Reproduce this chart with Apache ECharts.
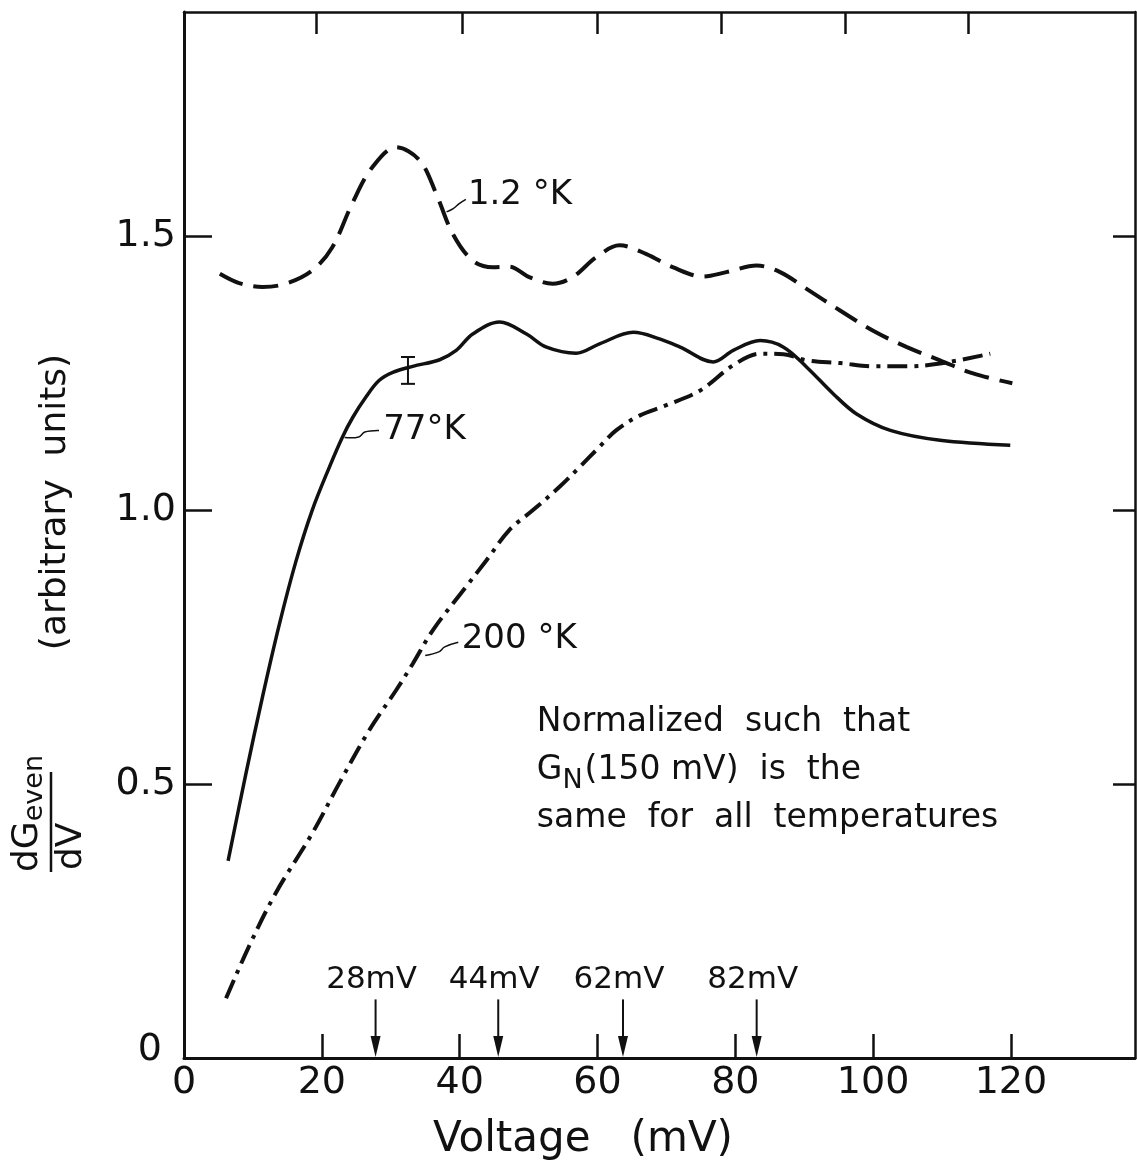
<!DOCTYPE html>
<html><head><meta charset="utf-8">
<script src="https://cdn.jsdelivr.net/npm/echarts@6/dist/echarts.min.js"></script>
<style>html,body{margin:0;padding:0;background:#fff}#c{width:1137px;height:1166px}</style>
</head><body><div id="c"></div>
<script>
// ---- data ----
const xTickValues = [0, 20, 40, 60, 80, 100, 120];
const yTickValues = [0, 0.5, 1.0, 1.5];
const yTickLabels = ['0', '0.5', '1.0', '1.5'];
const topTickValues = [19.2, 40.4, 59.9, 77.9, 95.9, 113.8];

const v1K2 = [5.2, 8.0, 11.4, 14.8, 18.6, 21.5, 24.4, 27.3, 30.8, 34.2, 36.6, 39.0, 41.9, 44.8, 47.2, 50.1, 53.5, 56.4, 59.8, 63.2, 67.1, 70.9, 75.3, 78.7, 83.1, 86.5, 90.4, 95.2, 100.0, 104.9, 109.7, 114.5, 120.2];
const g1K2 = [1.432, 1.415, 1.408, 1.414, 1.438, 1.480, 1.560, 1.626, 1.663, 1.639, 1.578, 1.505, 1.456, 1.444, 1.445, 1.426, 1.414, 1.426, 1.462, 1.484, 1.468, 1.444, 1.427, 1.435, 1.447, 1.435, 1.404, 1.365, 1.328, 1.298, 1.274, 1.250, 1.232];

const v77K = [6.4, 9.0, 11.4, 13.8, 16.2, 18.6, 21.1, 23.0, 24.5, 26.4, 28.3, 30.3, 33.2, 37.1, 39.5, 41.9, 45.8, 49.7, 52.6, 56.9, 60.3, 65.2, 69.0, 72.0, 76.8, 79.7, 83.6, 87.0, 90.4, 94.2, 97.6, 102.5, 109.7, 119.9];
const g77K = [0.360, 0.520, 0.660, 0.790, 0.905, 1.000, 1.079, 1.134, 1.170, 1.207, 1.237, 1.252, 1.263, 1.275, 1.292, 1.322, 1.344, 1.322, 1.298, 1.287, 1.304, 1.325, 1.313, 1.298, 1.271, 1.292, 1.310, 1.298, 1.261, 1.213, 1.176, 1.146, 1.128, 1.119];

const v200K = [6.1, 9.4, 13.3, 18.6, 22.5, 26.9, 30.8, 33.2, 36.1, 40.9, 43.9, 47.2, 50.6, 54.5, 57.4, 60.3, 62.7, 66.1, 70.0, 74.9, 79.7, 83.6, 87.0, 90.4, 95.2, 100.0, 104.9, 109.7, 117.0];
const g200K = [0.109, 0.203, 0.301, 0.410, 0.501, 0.599, 0.672, 0.720, 0.781, 0.860, 0.909, 0.964, 1.000, 1.043, 1.079, 1.116, 1.146, 1.173, 1.192, 1.219, 1.265, 1.286, 1.285, 1.274, 1.269, 1.263, 1.263, 1.268, 1.286];

const errBarV = [32.5];
const errBarLow = [1.231];
const errBarHigh = [1.280];

const arrowLabels = ['28mV', '44mV', '62mV', '82mV'];
const arrowV = [27.8, 45.6, 63.7, 83.1];
const arrowTail = 0.107;

const seriesNames = ['1.2 °K', '77°K', '200 °K'];

// ---- chart ----
const FONT = 'DejaVu Sans';
const INK = '#111';
const zip = (a, b) => a.map((v, i) => [v, b[i]]);

const chart = echarts.init(document.getElementById('c'), null, {renderer: 'canvas'});

const option = {
  backgroundColor: '#fff',
  animation: false,
  grid: {left: 184, right: 2, top: 12, bottom: 108, containLabel: false},
  xAxis: [
    {
      type: 'value', min: 0, max: 138, position: 'bottom',
      axisLine: {onZero: false, lineStyle: {color: INK, width: 3}},
      axisTick: {inside: true, length: 24, customValues: xTickValues.slice(1), lineStyle: {color: INK, width: 2.5}},
      axisLabel: {customValues: xTickValues, fontSize: 38, fontFamily: FONT, color: INK, margin: 6},
      splitLine: {show: false}
    },
    {
      type: 'value', min: 0, max: 138, position: 'top',
      axisLine: {onZero: false, lineStyle: {color: INK, width: 2.5}},
      axisTick: {inside: true, length: 22, customValues: topTickValues, lineStyle: {color: INK, width: 2.5}},
      axisLabel: {show: false},
      splitLine: {show: false}
    }
  ],
  yAxis: [
    {
      type: 'value', min: 0, max: 1.91, position: 'left',
      axisLine: {onZero: false, lineStyle: {color: INK, width: 3}},
      axisTick: {inside: true, length: 28, customValues: yTickValues.slice(1), lineStyle: {color: INK, width: 2.5}},
      axisLabel: {
        customValues: yTickValues, fontSize: 38, fontFamily: FONT, color: INK, margin: 8,
        formatter: v => {
          const i = yTickValues.findIndex(t => Math.abs(t - v) < 1e-9);
          const s = i >= 0 ? yTickLabels[i] : '';
          return v === 0 ? '{z|' + s + '}' : s;
        },
        rich: {z: {fontSize: 38, fontFamily: FONT, color: INK, padding: [0, 14, 16, 0]}}
      },
      splitLine: {show: false}
    },
    {
      type: 'value', min: 0, max: 1.91, position: 'right',
      axisLine: {onZero: false, lineStyle: {color: INK, width: 2.5}},
      axisTick: {inside: true, length: 22, customValues: yTickValues.slice(1), lineStyle: {color: INK, width: 2.5}},
      axisLabel: {show: false},
      splitLine: {show: false}
    }
  ],
  series: [
    {
      name: seriesNames[0], type: 'line', data: zip(v1K2, g1K2), showSymbol: false, smooth: 0.35,
      lineStyle: {color: INK, width: 4, type: [25, 11]}
    },
    {
      name: seriesNames[1], type: 'line', data: zip(v77K, g77K), showSymbol: false, smooth: 0.35,
      lineStyle: {color: INK, width: 3.5, type: 'solid'}
    },
    {
      name: seriesNames[2], type: 'line', data: zip(v200K, g200K), showSymbol: false, smooth: 0.35,
      lineStyle: {color: INK, width: 4, type: [20, 7, 4, 7]}
    },
    {
      type: 'custom', name: 'error bar',
      data: errBarV.map((v, i) => [v, errBarLow[i], errBarHigh[i]]),
      renderItem: (params, api) => {
        const lo = api.coord([api.value(0), api.value(1)]);
        const hi = api.coord([api.value(0), api.value(2)]);
        const w = 7;
        const st = {stroke: INK, lineWidth: 2};
        return {type: 'group', children: [
          {type: 'line', shape: {x1: lo[0], y1: lo[1], x2: hi[0], y2: hi[1]}, style: st},
          {type: 'line', shape: {x1: lo[0] - w, y1: lo[1], x2: lo[0] + w, y2: lo[1]}, style: st},
          {type: 'line', shape: {x1: hi[0] - w, y1: hi[1], x2: hi[0] + w, y2: hi[1]}, style: st}
        ]};
      }
    },
    {
      type: 'custom', name: 'arrows',
      data: arrowV.map((v, i) => [v, arrowTail, i]),
      renderItem: (params, api) => {
        const tip = api.coord([api.value(0), 0]);
        const tail = api.coord([api.value(0), api.value(1)]);
        const idx = api.value(2);
        return {type: 'group', children: [
          {type: 'line', shape: {x1: tail[0], y1: tail[1], x2: tip[0], y2: tip[1] - 16}, style: {stroke: INK, lineWidth: 2}},
          {type: 'polygon', shape: {points: [[tip[0] - 5, tip[1] - 22], [tip[0] + 5, tip[1] - 22], [tip[0], tip[1] - 1]]}, style: {fill: INK}},
          {type: 'text', x: tail[0] - 4, y: tail[1] - 4, style: {text: arrowLabels[idx], font: '31px "' + FONT + '"', fill: INK, align: 'center', verticalAlign: 'bottom'}}
        ]};
      }
    }
  ]
};
chart.setOption(option);

// ---- annotations (placed through the chart's scales) ----
const px = (x, y) => chart.convertToPixel({xAxisIndex: 0, yAxisIndex: 0}, [x, y]);
const g = [];
function leader(a, b) {
  const p = px(a[0], a[1]), q = px(b[0], b[1]);
  const mx = (p[0] + q[0]) / 2, my = (p[1] + q[1]) / 2;
  g.push({type: 'polyline', shape: {points: [p, [mx - 3, my + 3], [mx + 3, my - 2], q], smooth: 0.4}, style: {stroke: INK, lineWidth: 1.5, fill: null}});
}
function label(text, at, size) {
  const p = px(at[0], at[1]);
  g.push({type: 'text', x: p[0], y: p[1], style: {text: text, font: size + 'px "' + FONT + '"', fill: INK, align: 'left', verticalAlign: 'middle'}});
}
leader([38.1, 1.545], [40.9, 1.568]);
label(seriesNames[0], [41.2, 1.575], 34);
leader([23.3, 1.133], [28.3, 1.146]);
label(seriesNames[1], [28.9, 1.146], 34);
leader([35.0, 0.735], [39.8, 0.759]);
label(seriesNames[2], [40.3, 0.765], 34);

// note block
const n0 = px(51.2, 0.613), n1 = px(51.2, 0.526), n2 = px(51.2, 0.438);
const noteFont = '33px "' + FONT + '"';
g.push({type: 'text', x: n0[0], y: n0[1], style: {text: 'Normalized  such  that', font: noteFont, fill: INK, verticalAlign: 'middle'}});
g.push({type: 'text', x: n1[0], y: n1[1], style: {
  text: 'G{sub|N}(150 mV)  is  the', font: noteFont, fill: INK, verticalAlign: 'middle',
  rich: {sub: {font: '27px "' + FONT + '"', fill: INK, padding: [22, 2, 0, 0]}}
}});
g.push({type: 'text', x: n2[0], y: n2[1], style: {text: 'same  for  all  temperatures', font: noteFont, fill: INK, verticalAlign: 'middle'}});

// axis titles
g.push({type: 'text', x: 583, y: 1140, style: {text: 'Voltage   (mV)', font: '42px "' + FONT + '"', fill: INK, align: 'center', verticalAlign: 'middle'}});
g.push({type: 'text', x: 56, y: 502, rotation: Math.PI / 2, style: {text: '(arbitrary  units)', font: '36px "' + FONT + '"', fill: INK, align: 'center', verticalAlign: 'middle'}});
g.push({type: 'group', x: 51, y: 872, rotation: Math.PI / 2, children: [
  {type: 'line', shape: {x1: 0, y1: 0, x2: 100, y2: 0}, style: {stroke: INK, lineWidth: 2.5}},
  {type: 'text', x: 0, y: -3, style: {
    text: 'dG{sub|even}', font: '36px "' + FONT + '"', fill: INK, align: 'left', verticalAlign: 'bottom',
    rich: {sub: {font: '27px "' + FONT + '"', fill: INK, padding: [14, 0, 0, 0]}}
  }},
  {type: 'text', x: 2, y: 3, style: {text: 'dV', font: '36px "' + FONT + '"', fill: INK, align: 'left', verticalAlign: 'top'}}
]});

chart.setOption({graphic: g});
</script>
</body></html>
